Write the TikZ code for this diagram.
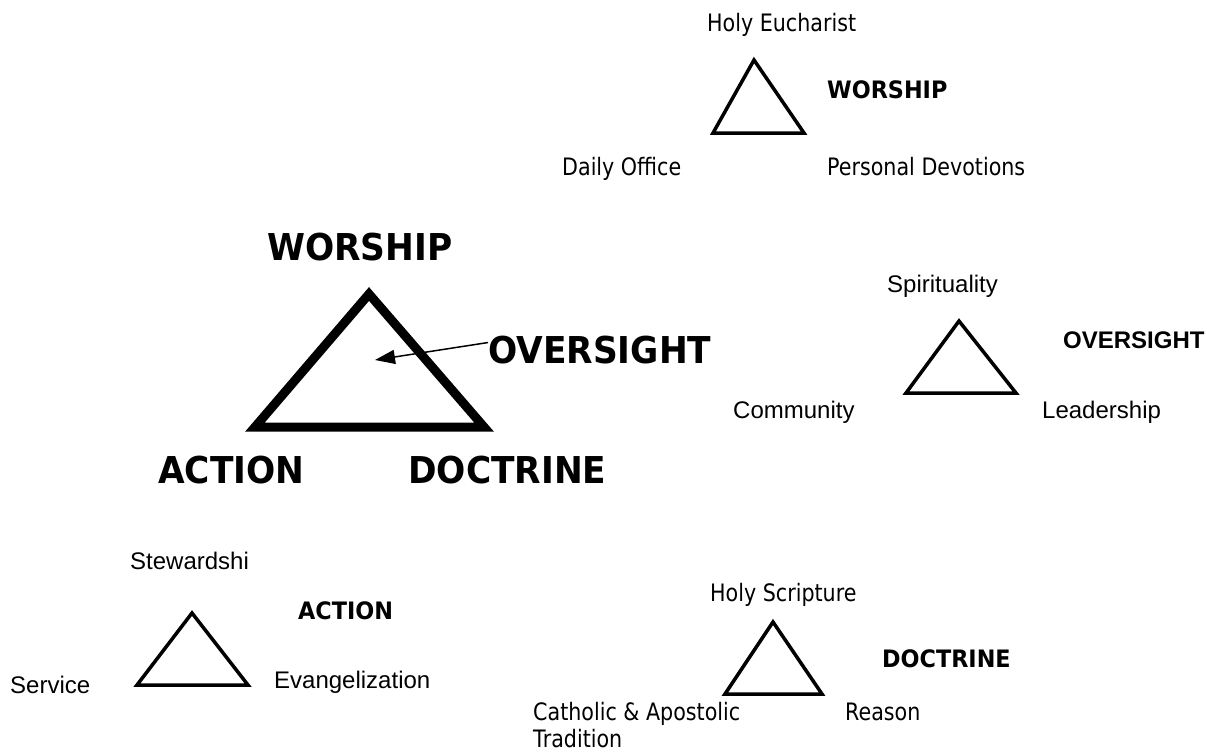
\documentclass[tikz,border=0pt]{standalone}
\usepackage{fontspec}
\setmainfont{Liberation Sans}
\newfontfamily\tahoma[FakeStretch=0.86]{DejaVu Sans}
\newfontfamily\tahomabf[FakeStretch=0.93]{DejaVu Sans}
\usetikzlibrary{arrows.meta}
\tikzset{
  lbl/.style={inner sep=0pt,anchor=base west,font=\fontsize{24}{28}\selectfont},
  tlbl/.style={lbl,font=\tahoma\fontsize{24}{28}\selectfont},
  tbold/.style={lbl,font=\tahomabf\bfseries\fontsize{24}{28}\selectfont},
  abold/.style={lbl,font=\bfseries\fontsize{24}{28}\selectfont},
  big/.style={lbl,font=\tahomabf\bfseries\fontsize{37}{42}\selectfont},
  tri/.style={line width=3.5pt,line join=miter},
  bigtri/.style={line width=9pt,line join=miter}
}
\begin{document}
\begin{tikzpicture}[x=1pt,y=-1pt]
  \useasboundingbox (0,0) rectangle (1207,753);
  % main triangle
  \coordinate (mt) at (369,294);
  \coordinate (ml) at (255,427);
  \coordinate (mr) at (484,427);
  \draw[bigtri] (mt) -- (ml) -- (mr) -- cycle;
  \node[big] (bigwor) at (267,260) {WORSHIP};
  \node[big] (bigover) at (488,363) {OVERSIGHT};
  \node[big] (bigact) at (158,483) {ACTION};
  \node[big] (bigdoc) at (408,483) {DOCTRINE};
  \coordinate (tip) at (375,360);
  \draw[line width=1.5pt,-{Triangle[length=20pt,width=14pt]}] ([yshift=7pt]bigover.west) -- (tip);
  % worship
  \coordinate (wt) at (754,60);
  \coordinate (wl) at (713,133);
  \coordinate (wr) at (804,133);
  \draw[tri] (wt) -- (wl) -- (wr) -- cycle;
  \node[tlbl] (euch) at (707,31) {Holy Eucharist};
  \node[tbold] (wor) at (827,98) {WORSHIP};
  \node[tlbl] (office) at (562,175) {Daily Office};
  \node[tlbl] (devot) at (827,175) {Personal Devotions};
  % oversight
  \coordinate (ot) at (959,321);
  \coordinate (ol) at (906,393);
  \coordinate (or) at (1016,393);
  \draw[tri] (ot) -- (ol) -- (or) -- cycle;
  \node[lbl] (spirit) at (887,292) {Spirituality};
  \node[abold] (over) at (1063,348) {OVERSIGHT};
  \node[lbl] (commun) at (733,418) {Community};
  \node[lbl] (leader) at (1042,418) {Leadership};
  % action
  \coordinate (at) at (192,613);
  \coordinate (al) at (137,685);
  \coordinate (ar) at (248,685);
  \draw[tri] (at) -- (al) -- (ar) -- cycle;
  \node[lbl] (stew) at (130,569) {Stewardshi};
  \node[tbold] (act) at (298,619) {ACTION};
  \node[lbl] (serv) at (10,693) {Service};
  \node[lbl] (evang) at (274,688) {Evangelization};
  % doctrine
  \coordinate (dt) at (773,622);
  \coordinate (dl) at (725,694);
  \coordinate (dr) at (822,694);
  \draw[tri] (dt) -- (dl) -- (dr) -- cycle;
  \node[tlbl] (script) at (710,601) {Holy Scripture};
  \node[tbold] (doc) at (882,667) {DOCTRINE};
  \node[tlbl] (trad) at (533,720) {Catholic \& Apostolic};
  \node[tlbl] (trad2) at (533,747) {Tradition};
  \node[tlbl] (reason) at (845,720) {Reason};
\end{tikzpicture}
\end{document}
